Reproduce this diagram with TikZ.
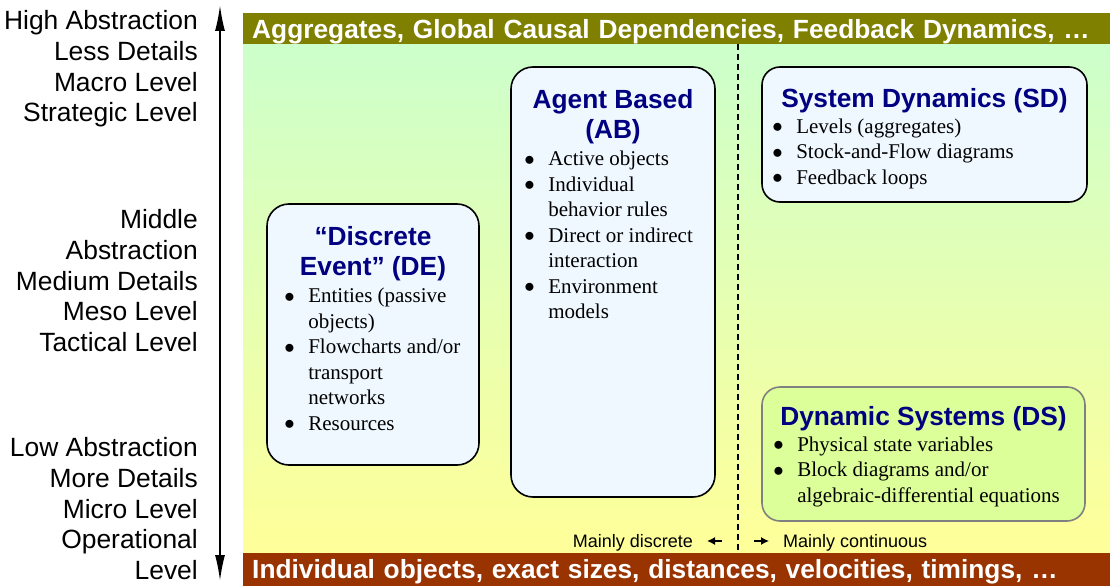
\documentclass[tikz,border=0pt]{standalone}
\usepackage{fontspec}
\setmainfont{Liberation Serif}
\setsansfont{Liberation Sans}
\usetikzlibrary{arrows.meta, positioning, calc}

\definecolor{bannerolive}{RGB}{128,128,0}
\definecolor{bannerrust}{RGB}{153,51,0}
\definecolor{titlenavy}{RGB}{0,0,128}
\definecolor{boxblue}{RGB}{240,248,255}
\definecolor{boxlime}{RGB}{221,255,153}
\definecolor{bgtop}{RGB}{204,255,204}
\definecolor{bgbottom}{RGB}{255,255,153}

\newcommand{\modelbullet}{\raisebox{0.5pt}{$\bullet$}}

\begin{document}
\begin{tikzpicture}[x=1pt, y=-1pt,
  sidelabel/.style={align=right, inner sep=0pt, font=\sffamily\fontsize{26.4}{30.7}\selectfont},
  banner/.style={anchor=north west, inner xsep=9pt, inner ysep=0pt, text=white,
    font=\sffamily\bfseries\fontsize{26.3}{30}\selectfont, text width=849pt, align=left},
  modelbox/.style={draw=black, line width=1.6pt, fill=boxblue, rounded corners=22pt},
  modeltitle/.style={align=center, inner sep=0pt, text=titlenavy,
    font=\sffamily\bfseries\fontsize{26.3}{30}\selectfont},
  itemlist/.style={anchor=north west, inner sep=0pt, font=\rmfamily\fontsize{21}{25.5}\selectfont},
  smalllabel/.style={inner sep=0pt, font=\sffamily\fontsize{18}{20}\selectfont},
  smallarrow/.style={line width=1.3pt, -{Latex[length=8pt,width=8pt]}}]
\useasboundingbox (0,0) rectangle (1110,586);

% Background and banners
\shade[top color=bgtop, bottom color=bgbottom] (243,44) rectangle (1110,553);
\node[banner, fill=bannerolive, text height=25pt, text depth=6pt] (topbanner) at (243,13)
  {Aggregates, Global Causal Dependencies, Feedback Dynamics, …};
\node[banner, fill=bannerrust, text height=25.3pt, text depth=7.7pt] (botbanner) at (243,553)
  {Individual objects, exact sizes, distances, velocities, timings, …};

% Abstraction axis
\coordinate (axtop) at (220,5);
\coordinate (axbot) at (220,581);
\draw[line width=1.8pt, {Latex[length=26pt,width=10pt]}-{Latex[length=26pt,width=10pt]}] (axtop) -- (axbot);

\node[sidelabel, anchor=north east] (highlbl) at (198,10.5)
  {High Abstraction\\Less Details\\Macro Level\\Strategic Level};
\node[sidelabel, anchor=north east] (midlbl) at (198,209.5)
  {Middle\\Abstraction\\Medium Details\\Meso Level\\Tactical Level};
\node[sidelabel, anchor=north east] (lowlbl) at (198,437.5)
  {Low Abstraction\\More Details\\Micro Level\\Operational\\Level};

% Discrete / continuous split
\coordinate (splittop) at (738,44);
\coordinate (splitbot) at (738,553);
\draw[line width=1.4pt, dash pattern=on 6pt off 4pt] (splittop) -- (splitbot);

\node[smalllabel, anchor=base east] (discrete) at (693,547.5) {Mainly discrete};
\node[smalllabel, anchor=base west] (continuous) at (783,547.5) {Mainly continuous};
\coordinate (dtail) at (722,541);
\coordinate (dtip) at (707,541);
\coordinate (ctail) at (754,541);
\coordinate (ctip) at (769,541);
\draw[smallarrow] (dtail) -- (dtip);
\draw[smallarrow] (ctail) -- (ctip);

% Discrete Event
\node[modelbox, minimum width=212pt, minimum height=261pt] (de) at (373,334.5) {};
\node[modeltitle, below=23pt of de.north] (detitle) {“Discrete\\Event” (DE)};
\node[itemlist] (delist) at ($(detitle.south -| de.west)+(18,3.5)$)
  {\begin{tabular}{@{}l@{\hspace{13.5pt}}l@{}}
   \modelbullet & Entities (passive\\ & objects)\\
   \modelbullet & Flowcharts and/or\\ & transport\\ & networks\\
   \modelbullet & Resources
   \end{tabular}};

% Agent Based
\node[modelbox, minimum width=204pt, minimum height=430pt] (ab) at (613,282) {};
\node[modeltitle, below=23pt of ab.north] (abtitle) {Agent Based\\(AB)};
\node[itemlist] (ablist) at ($(abtitle.south -| ab.west)+(14,3.5)$)
  {\begin{tabular}{@{}l@{\hspace{13.5pt}}l@{}}
   \modelbullet & Active objects\\
   \modelbullet & Individual\\ & behavior rules\\
   \modelbullet & Direct or indirect\\ & interaction\\
   \modelbullet & Environment\\ & models
   \end{tabular}};

% System Dynamics
\node[modelbox, minimum width=325pt, minimum height=135pt, rounded corners=18pt] (sd) at (924.5,134.5) {};
\node[modeltitle, below=22pt of sd.north] (sdtitle) {System Dynamics (SD)};
\node[itemlist] (sdlist) at ($(sdtitle.south -| sd.west)+(11,2)$)
  {\begin{tabular}{@{}l@{\hspace{13.5pt}}l@{}}
   \modelbullet & Levels (aggregates)\\
   \modelbullet & Stock-and-Flow diagrams\\
   \modelbullet & Feedback loops
   \end{tabular}};

% Dynamic Systems
\node[modelbox, draw=gray, fill=boxlime, minimum width=323pt, minimum height=134pt, rounded corners=18pt] (ds) at (923.5,454) {};
\node[modeltitle, below=20pt of ds.north] (dstitle) {Dynamic Systems (DS)};
\node[itemlist] (dslist) at ($(dstitle.south -| ds.west)+(12,2)$)
  {\begin{tabular}{@{}l@{\hspace{13.5pt}}l@{}}
   \modelbullet & Physical state variables\\
   \modelbullet & Block diagrams and/or\\ & algebraic-differential equations
   \end{tabular}};
\end{tikzpicture}
\end{document}
